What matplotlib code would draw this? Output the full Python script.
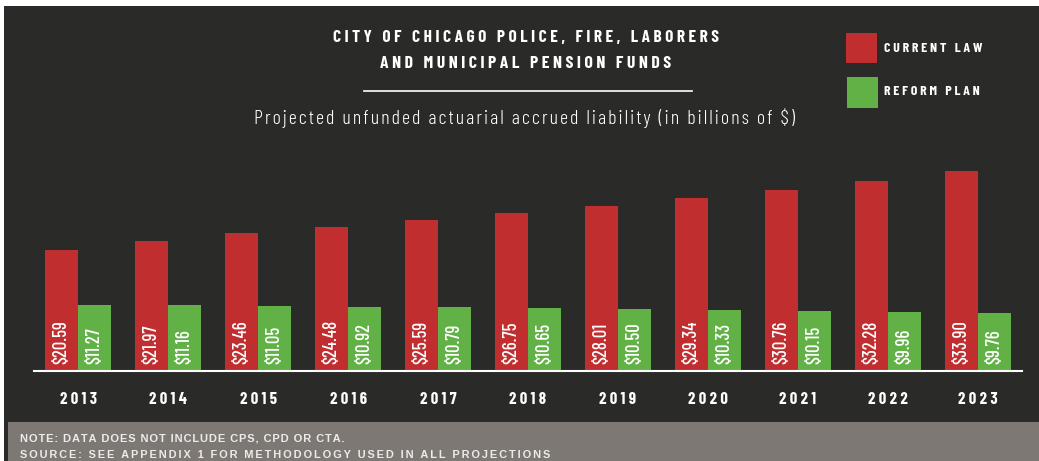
import matplotlib.pyplot as plt
from matplotlib.patches import Rectangle

years = ["2013", "2014", "2015", "2016", "2017", "2018", "2019", "2020", "2021", "2022", "2023"]
current_law = [20.59, 21.97, 23.46, 24.48, 25.59, 26.75, 28.01, 29.34, 30.76, 32.28, 33.90]
reform_plan = [11.27, 11.16, 11.05, 10.92, 10.79, 10.65, 10.50, 10.33, 10.15, 9.96, 9.76]

RED = "#C02E30"
GREEN = "#62B146"
DARK = "#2A2B29"
GREY = "#7D7874"
COND = ["Barlow Condensed", "DejaVu Sans"]
FOOT = ["Liberation Sans", "DejaVu Sans"]

W, H = 1039, 461
fig = plt.figure(figsize=(W / 100, H / 100), dpi=100)
fig.patch.set_facecolor("white")


def fx(px):
    return px / W


def fy(py):
    return 1 - py / H


def spaced(s, sep="\u200a"):
    return sep.join(s)


# background panels
fig.patches.append(Rectangle((fx(4), 0), fx(W - 4), fy(6), transform=fig.transFigure,
                             facecolor=DARK, edgecolor="none", zorder=-2))
fig.patches.append(Rectangle((fx(8), 0), fx(W - 8), fy(422), transform=fig.transFigure,
                             facecolor=GREY, edgecolor="none", zorder=-1))

# plot axes
ax = fig.add_axes([fx(34), fy(371), fx(1022 - 34), fy(171) - fy(371)])
ax.set_facecolor("none")
x = list(range(len(years)))
bw = 0.367
ax.bar([i - bw / 2 for i in x], current_law, width=bw, color=RED, zorder=2)
ax.bar([i + bw / 2 for i in x], reform_plan, width=bw, color=GREEN, zorder=2)
ax.set_xlim(-0.49, 10.49)
ax.set_ylim(0, 33.9)
for s in ["top", "right", "left"]:
    ax.spines[s].set_visible(False)
ax.spines["bottom"].set_color("white")
ax.spines["bottom"].set_linewidth(1.5)
ax.spines["bottom"].set_zorder(3)
ax.set_yticks([])
ax.set_xticks(x)
ax.set_xticklabels([spaced(y, "\u2009") for y in years], color="white", fontsize=12,
                   fontweight="bold", family=COND)
ax.tick_params(axis="x", length=0, pad=15)

for i in x:
    ax.annotate(f"${current_law[i]:.2f}", xy=(i - bw / 2, 0), xytext=(0, 5),
                textcoords="offset points", rotation=90, ha="center", va="bottom",
                color="white", fontsize=13.5, fontweight=500, family=COND)
    ax.annotate(f"${reform_plan[i]:.2f}", xy=(i + bw / 2, 0), xytext=(0, 5),
                textcoords="offset points", rotation=90, ha="center", va="bottom",
                color="white", fontsize=13.5, fontweight=500, family=COND)

# titles
fig.text(fx(526), fy(37), spaced("CITY OF CHICAGO POLICE, FIRE, LABORERS", "\u2009"),
         ha="center", va="center", color="white", fontsize=12.5, fontweight="bold", family=COND)
fig.text(fx(526), fy(63), spaced("AND MUNICIPAL PENSION FUNDS", "\u2009"),
         ha="center", va="center", color="white", fontsize=12.8, fontweight="bold", family=COND)
fig.add_artist(plt.Line2D([fx(364), fx(692)], [fy(91), fy(91)], color="white", lw=1.2))
fig.text(fx(525), fy(118), spaced("Projected unfunded actuarial accrued liability (in billions of $)"),
         ha="center", va="center", color="white", fontsize=14.5, fontweight=300, family=COND)

# legend
fig.patches.append(Rectangle((fx(846), fy(63)), fx(31), fy(33) - fy(63), transform=fig.transFigure,
                             facecolor=RED, edgecolor="none"))
fig.patches.append(Rectangle((fx(847), fy(108)), fx(31), fy(77) - fy(108), transform=fig.transFigure,
                             facecolor=GREEN, edgecolor="none"))
fig.text(fx(884), fy(48), spaced("CURRENT LAW", "\u2009"), ha="left", va="center", color="white",
         fontsize=10, fontweight="bold", family=COND)
fig.text(fx(884), fy(91), spaced("REFORM PLAN", "\u2009"), ha="left", va="center", color="white",
         fontsize=10, fontweight="bold", family=COND)

# footer
fig.text(fx(20), fy(438), spaced("NOTE: DATA DOES NOT INCLUDE CPS, CPD OR CTA.", "\u200a"),
         ha="left", va="center", color="#EDEBE8", fontsize=8, fontweight="bold", family=FOOT)
fig.text(fx(20), fy(455), spaced("SOURCE: SEE APPENDIX 1 FOR METHODOLOGY USED IN ALL PROJECTIONS", "\u2006"),
         ha="left", va="center", color="#EDEBE8", fontsize=7.9, fontweight="bold", family=FOOT)

fig.savefig("out.png", dpi=100, facecolor=fig.get_facecolor())
